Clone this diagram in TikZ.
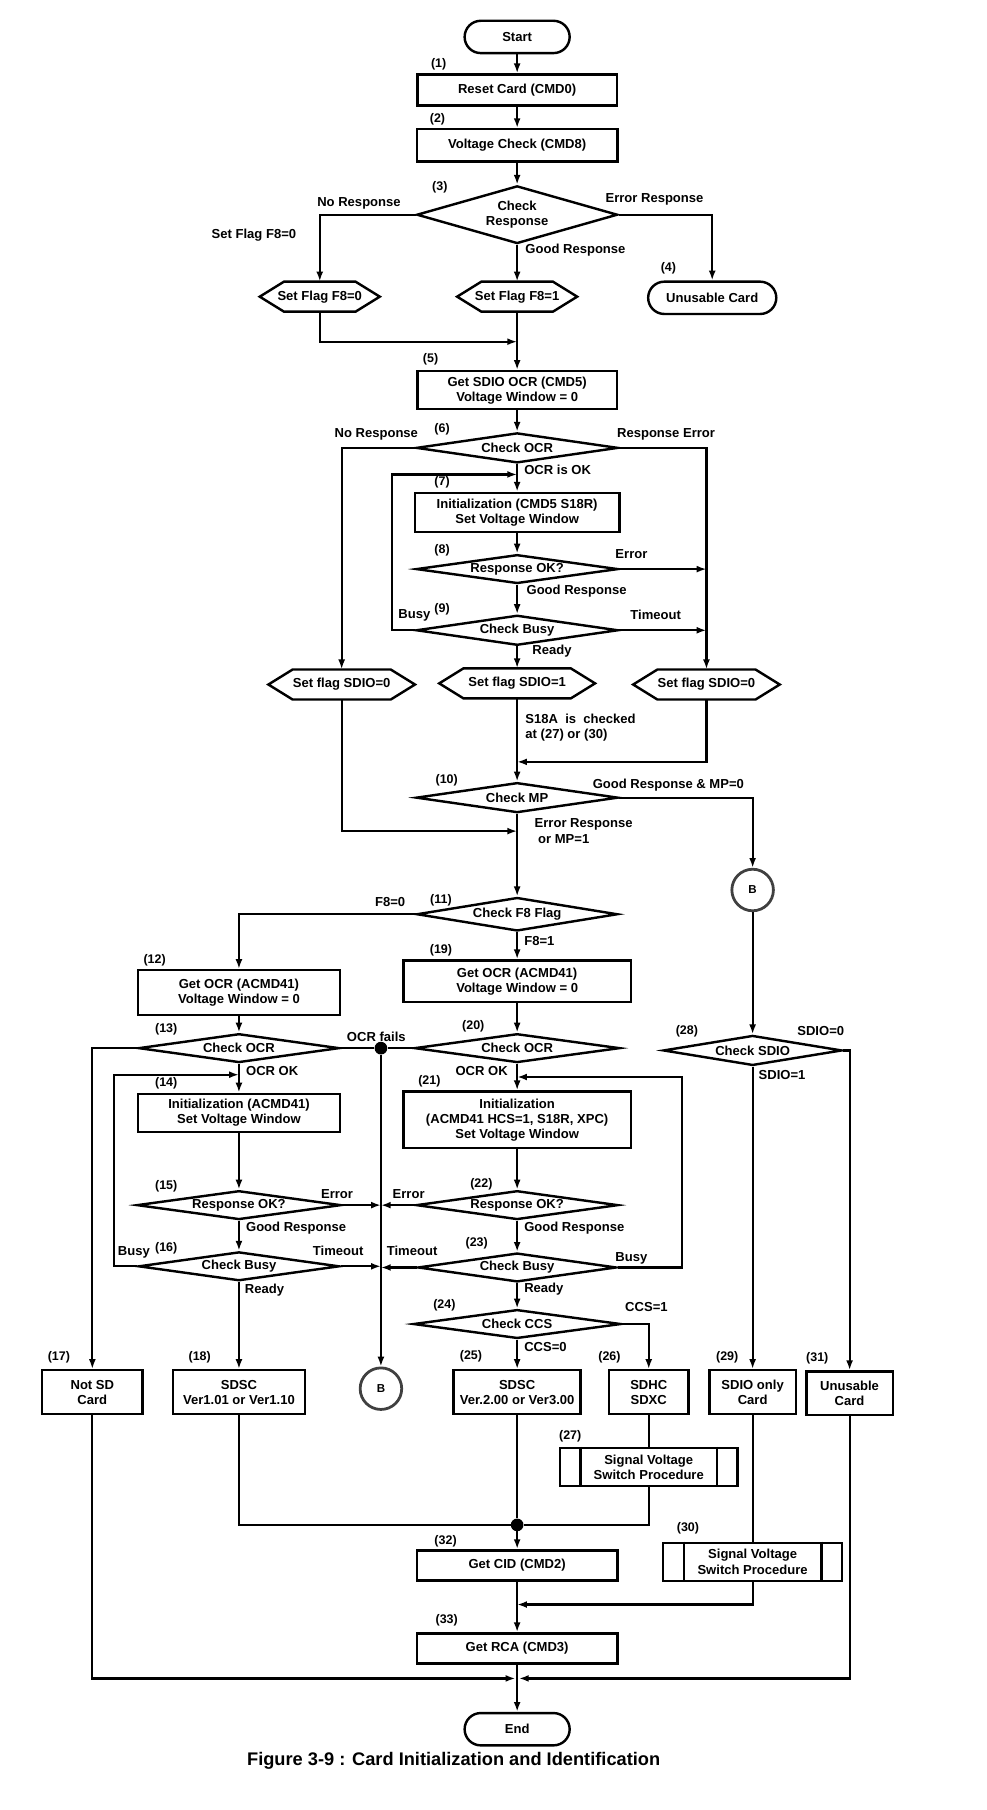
\documentclass[tikz,border=0pt]{standalone}
\usepackage{fontspec}
\setmainfont{Liberation Sans}
\usetikzlibrary{shapes.geometric, arrows.meta, calc}
\newcommand\bodyfont{\fontsize{11.3}{13}\selectfont\bfseries}
\newcommand\numfont{\fontsize{10.8}{12}\selectfont\bfseries}
\newcommand\capfont{\fontsize{15.8}{18}\selectfont\bfseries}
\tikzset{
 every node/.style={inner sep=0pt, align=center, font=\bodyfont},
 box/.style={draw, rectangle, line width=2.1pt},
 term/.style={draw, rectangle, rounded corners=14pt, line width=2.1pt},
 dec/.style={draw, diamond, line width=2.1pt, aspect=6.5},
 conn/.style={line width=1.9pt},
 arr/.style={conn, -{Latex[length=8.5pt,width=6pt]}},
 num/.style={font=\numfont},
 bcirc/.style={draw=black!75, circle, line width=2.4pt, minimum size=36pt, font=\fontsize{10}{12}\selectfont\bfseries},
 dot/.style={fill, circle, minimum size=11pt},
}
% name, x, y, total width, text
\newcommand\hexnode[5]{%
 \node[minimum height=26pt] (#1) at (#2,#3) {#5};
 \draw[line width=2.1pt, line join=miter] ($(#1.center)+(-#4/2+21,-13)$) -- ++(#4-42,0) -- ++(21,13) -- ++(-21,13) -- ++(-#4+42,0) -- ++(-21,-13) -- cycle;
}
\newcommand\predef[1]{%
 \draw[line width=2.1pt] ([xshift=19pt]#1.north west) -- ([xshift=19pt]#1.south west);
 \draw[line width=2.1pt] ([xshift=-19pt]#1.north east) -- ([xshift=-19pt]#1.south east);
}
\begin{document}
\begin{tikzpicture}[x=1pt,y=-1pt]
\fill[white] (0,0) rectangle (855,1568);
\useasboundingbox (0,0) rectangle (855,1568);

% ---------- nodes ----------
\node[term, minimum width=91pt, minimum height=28pt] (start) at (448,32) {Start};
\node[box, minimum width=173pt, minimum height=27pt] (n1) at (448,78) {Reset Card (CMD0)};
\node[box, minimum width=174pt, minimum height=28pt] (n2) at (448,126) {Voltage Check (CMD8)};
\node[dec, aspect=3.5, minimum width=174pt, minimum height=50pt] (n3) at (448,186) {Check\\Response};
\hexnode{hexL}{277}{257}{104}{Set Flag F8=0}
\hexnode{hexM}{448}{257}{104}{Set Flag F8=1}
\node[term, minimum width=111pt, minimum height=28pt] (n4) at (617,258) {Unusable Card};
\node[box, minimum width=173pt, minimum height=33pt] (n5) at (448,338) {Get SDIO OCR (CMD5)\\Voltage Window = 0};
\node[dec, minimum width=175pt, minimum height=26pt] (n6) at (448,388) {Check OCR};
\node[box, minimum width=177pt, minimum height=34pt] (n7) at (448,444) {Initialization (CMD5 S18R)\\Set Voltage Window};
\node[dec, minimum width=175pt, minimum height=25pt] (n8) at (448,493) {Response OK?};
\node[dec, minimum width=175pt, minimum height=26pt] (n9) at (448,546) {Check Busy};
\hexnode{hexSL}{296}{593}{127}{Set flag SDIO=0}
\hexnode{hexSM}{448}{592}{135}{Set flag SDIO=1}
\hexnode{hexSR}{612}{593}{127}{Set flag SDIO=0}
\node[dec, minimum width=175pt, minimum height=26pt] (n10) at (448,691) {Check MP};
\node[bcirc] (bup) at (652,771) {B};
\node[dec, minimum width=174pt, minimum height=29pt] (n11) at (448,792) {Check F8 Flag};
\node[box, minimum width=175pt, minimum height=39pt] (n12) at (207,860) {Get OCR (ACMD41)\\Voltage Window = 0};
\node[dec, minimum width=174pt, minimum height=25pt] (n13) at (207,908) {Check OCR};
\node[box, minimum width=175pt, minimum height=33pt] (n14) at (207,964) {Initialization (ACMD41)\\Set Voltage Window};
\node[dec, minimum width=177pt, minimum height=25pt] (n15) at (207,1044) {Response OK?};
\node[dec, minimum width=174pt, minimum height=25pt] (n16) at (207,1097) {Check Busy};
\node[box, minimum width=87pt, minimum height=38pt] (n17) at (80,1206) {Not SD\\Card};
\node[box, minimum width=114pt, minimum height=38pt] (n18) at (207,1206) {SDSC\\Ver1.01 or Ver1.10};
\node[bcirc] (blow) at (330,1203) {B};
\node[dot] (dot1) at (330,908) {};
\node[box, minimum width=197pt, minimum height=36pt] (n19) at (448,850) {Get OCR (ACMD41)\\Voltage Window = 0};
\node[dec, minimum width=178pt, minimum height=25pt] (n20) at (448,908) {Check OCR};
\node[box, minimum width=197pt, minimum height=49pt] (n21) at (448,970) {Initialization\\(ACMD41 HCS=1, S18R, XPC)\\Set Voltage Window};
\node[dec, minimum width=175pt, minimum height=25pt] (n22) at (448,1044) {Response OK?};
\node[dec, minimum width=172pt, minimum height=25pt] (n23) at (448,1098) {Check Busy};
\node[dec, minimum width=180pt, minimum height=25pt] (n24) at (448,1147) {Check CCS};
\node[box, minimum width=110pt, minimum height=38pt] (n25) at (448,1206) {SDSC\\Ver.2.00 or Ver3.00};
\node[box, minimum width=69pt, minimum height=38pt] (n26) at (562,1206) {SDHC\\SDXC};
\node[box, minimum width=154pt, minimum height=33pt] (n27) at (562,1271) {Signal Voltage\\Switch Procedure};
\predef{n27}
\node[dec, minimum width=155pt, minimum height=26pt] (n28) at (652,910) {Check SDIO};
\node[box, minimum width=75pt, minimum height=38pt] (n29) at (652,1206) {SDIO only\\Card};
\node[box, minimum width=155pt, minimum height=33pt] (n30) at (652,1353) {Signal Voltage\\Switch Procedure};
\predef{n30}
\node[box, minimum width=75pt, minimum height=38pt] (n31) at (736,1207) {Unusable\\Card};
\node[dot] (dot2) at (448,1321) {};
\node[box, minimum width=174pt, minimum height=26pt] (n32) at (448,1356) {Get CID (CMD2)};
\node[box, minimum width=174pt, minimum height=26pt] (n33) at (448,1428) {Get RCA (CMD3)};
\node[term, minimum width=91pt, minimum height=28pt] (end) at (448,1498) {End};
\node[font=\capfont] (cap) at (393,1525) {Figure 3-9 : Card Initialization and Identification};

% ---------- step numbers ----------
\node[num] (l1) at (380,56) {(1)};
\node[num] (l2) at (379,103) {(2)};
\node[num] (l3) at (381,162) {(3)};
\node[num] (l4) at (579,232) {(4)};
\node[num] (l5) at (373,311) {(5)};
\node[num] (l6) at (383,372) {(6)};
\node[num] (l7) at (383,418) {(7)};
\node[num] (l8) at (383,477) {(8)};
\node[num] (l9) at (383,528) {(9)};
\node[num] (l10) at (387,676) {(10)};
\node[num] (l11) at (382,780) {(11)};
\node[num] (l12) at (134,832) {(12)};
\node[num] (l13) at (144,892) {(13)};
\node[num] (l14) at (144,938) {(14)};
\node[num] (l15) at (144,1028) {(15)};
\node[num] (l16) at (144,1081) {(16)};
\node[num] (l17) at (51,1176) {(17)};
\node[num] (l18) at (173,1176) {(18)};
\node[num] (l19) at (382,823) {(19)};
\node[num] (l20) at (410,889) {(20)};
\node[num] (l21) at (372,937) {(21)};
\node[num] (l22) at (417,1026) {(22)};
\node[num] (l23) at (413,1077) {(23)};
\node[num] (l24) at (385,1131) {(24)};
\node[num] (l25) at (408,1175) {(25)};
\node[num] (l26) at (528,1176) {(26)};
\node[num] (l27) at (494,1244) {(27)};
\node[num] (l28) at (595,893) {(28)};
\node[num] (l29) at (630,1176) {(29)};
\node[num] (l30) at (596,1324) {(30)};
\node[num] (l31) at (708,1177) {(31)};
\node[num] (l32) at (386,1335) {(32)};
\node[num] (l33) at (387,1404) {(33)};

% ---------- connector labels ----------
\node (t1) at (311,176) {No Response};
\node (t2) at (220,204) {Set Flag F8=0};
\node (t3) at (567,173) {Error Response};
\node[anchor=west] (t4) at (455,217) {Good Response};
\node (t5) at (326,376) {No Response};
\node (t6) at (577,376) {Response Error};
\node[anchor=west] (t7) at (454,407) {OCR is OK};
\node (t8) at (547,480) {Error};
\node[anchor=west] (t9) at (456,512) {Good Response};
\node (t10) at (359,533) {Busy};
\node (t11) at (568,533) {Timeout};
\node[anchor=west] (t12) at (461,564) {Ready};
\node[anchor=west] (t13) at (455,623) {S18A\ \ is\ \ checked};
\node[anchor=west] (t14) at (455,637) {at (27) or (30)};
\node (t15) at (579,680) {Good Response \& MP=0};
\node[anchor=west] (t16) at (463,714) {Error Response};
\node[anchor=west] (t17) at (466,727) {or MP=1};
\node (t18) at (338,781) {F8=0};
\node[anchor=west] (t19) at (454,815) {F8=1};
\node (t20) at (326,898) {OCR fails};
\node[anchor=west] (t21) at (213,928) {OCR OK};
\node (t22) at (292,1034) {Error};
\node[anchor=west] (t23) at (213,1064) {Good Response};
\node (t24) at (116,1085) {Busy};
\node (t25) at (293,1084) {Timeout};
\node[anchor=west] (t26) at (212,1118) {Ready};
\node[anchor=east] (t27) at (440,928) {OCR OK};
\node (t28) at (354,1034) {Error};
\node[anchor=west] (t29) at (454,1064) {Good Response};
\node (t30) at (357,1084) {Timeout};
\node (t31) at (547,1090) {Busy};
\node[anchor=west] (t32) at (454,1117) {Ready};
\node (t33) at (560,1132) {CCS=1};
\node[anchor=west] (t34) at (454,1167) {CCS=0};
\node (t35) at (711,893) {SDIO=0};
\node[anchor=west] (t36) at (657,931) {SDIO=1};

% ---------- connectors ----------
\coordinate (j1) at (448,296);
\coordinate (j2) at (448,411);
\coordinate (j4) at (448,660);
\coordinate (j5) at (448,720);
\coordinate (j6) at (207,931);
\coordinate (j7) at (448,933);
\coordinate (j8) at (448,1454);
\coordinate (j9) at (448,1390);

\draw[arr] (start) -- (n1);
\draw[arr] (n1) -- (n2);
\draw[arr] (n2) -- (n3);
\draw[arr] (n3.west) -| (hexL.north);
\draw[arr] (n3) -- (hexM);
\draw[arr] (n3.east) -| (n4.north);
\draw[arr] (hexL.south) |- (j1);
\draw[arr] (hexM) -- (n5);
\draw[arr] (n5) -- (n6);
\draw[arr] (n6.west) -| (hexSL.north);
\draw[arr] (n6.east) -| (hexSR.north);
\draw[arr] (n6) -- (n7);
\draw[arr] (n9.west) -- ++(-20,0) |- (j2);
\draw[arr] (n7) -- (n8);
\draw[arr] (n8.east) -- (n8.east -| hexSR.north);
\draw[arr] (n8) -- (n9);
\draw[arr] (n9.east) -- (n9.east -| hexSR.north);
\draw[arr] (n9) -- (hexSM);
\draw[arr] (hexSR.south) |- (j4);
\draw[arr] (hexSM) -- (n10);
\draw[arr] (hexSL.south) |- (j5);
\draw[arr] (n10.east) -| (bup.north);
\draw[arr] (n10) -- (n11);
\draw[arr] (n11.west) -| (n12.north);
\draw[arr] (n11) -- (n19);
\draw[arr] (bup) -- (n28);
\draw[arr] (n12) -- (n13);
\draw[arr] (n13.west) -| (n17.north);
\draw[conn] (n13.east) -- (dot1) -- (n20.west);
\draw[arr] (dot1) -- (blow);
\draw[arr] (n13) -- (n14);
\draw[arr] (n16.west) -- ++(-20,0) |- (j6);
\draw[arr] (n14) -- (n15);
\draw[arr] (n15.east) -- (n15.east -| dot1);
\draw[arr] (n15) -- (n16);
\draw[arr] (n16.east) -- (n16.east -| dot1);
\draw[arr] (n16) -- (n18);
\draw[arr] (n19) -- (n20);
\draw[arr] (n20) -- (n21);
\draw[arr] (n23.east) -- ++(56,0) |- (j7);
\draw[arr] (n21) -- (n22);
\draw[arr] (n22.west) -- (n22.west -| dot1);
\draw[arr] (n22) -- (n23);
\draw[arr] (n23.west) -- (n23.west -| dot1);
\draw[arr] (n23) -- (n24);
\draw[arr] (n24) -- (n25);
\draw[arr] (n24.east) -| (n26.north);
\draw[arr] (n28.east) -| (n31.north);
\draw[arr] (n28) -- (n29);
\draw[conn] (n18.south) |- (dot2);
\draw[conn] (n25) -- (dot2);
\draw[conn] (n26) -- (n27);
\draw[conn] (n27.south) |- (dot2);
\draw[arr] (dot2) -- (n32);
\draw[conn] (n29) -- (n30);
\draw[arr] (n30.south) |- (j9);
\draw[arr] (n32) -- (n33);
\draw[arr, shorten >=1.5pt] (n17.south) |- (j8);
\draw[arr, shorten >=1.5pt] (n31.south) |- (j8);
\draw[arr] (n33) -- (end);
\end{tikzpicture}
\end{document}
